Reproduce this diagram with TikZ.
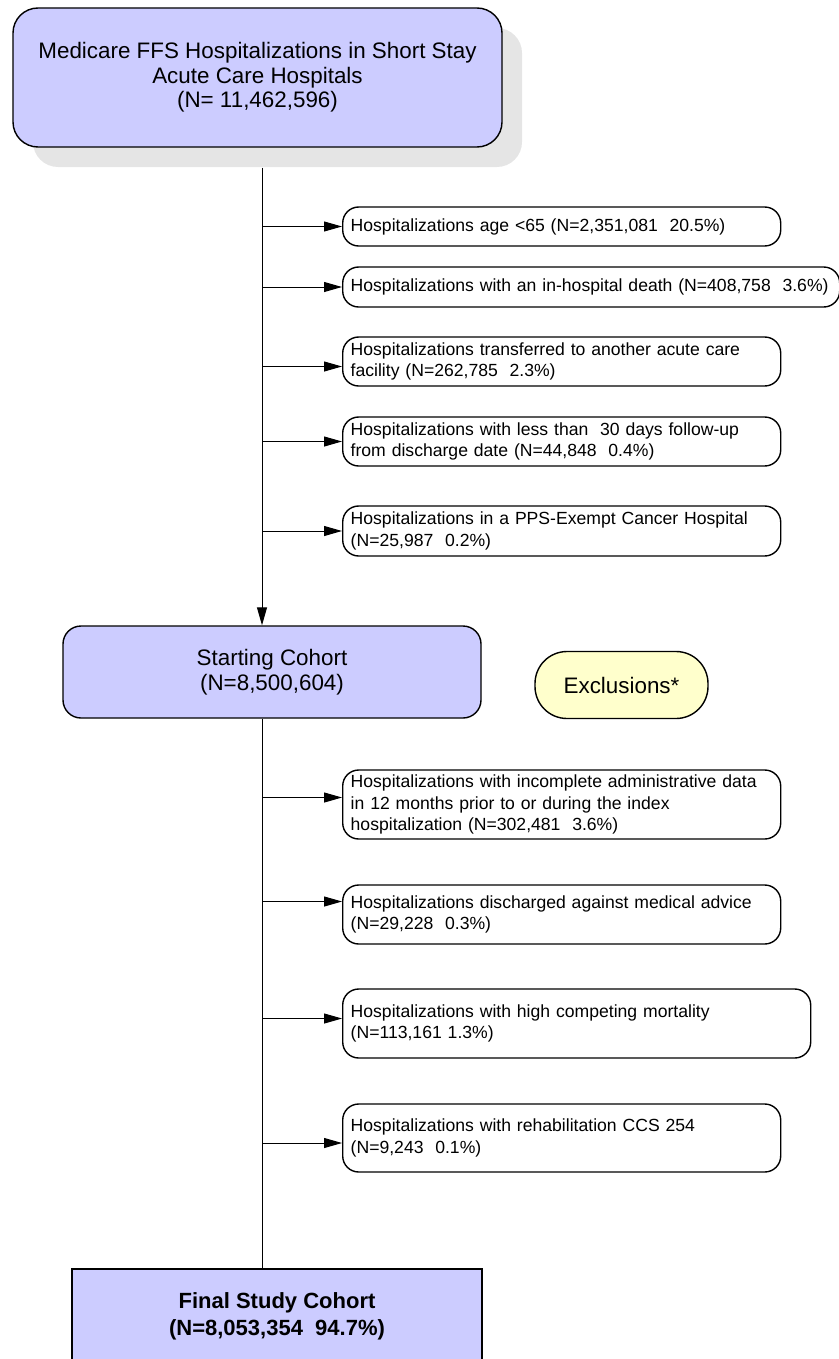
\documentclass[tikz,border=0pt]{standalone}
\usepackage{fontspec}
\setmainfont{Liberation Sans}
\usepackage{tikz}
\usetikzlibrary{arrows.meta}
\usetikzlibrary{shadows}
\tikzset{>={Triangle[length=9pt,width=5pt]}}
\definecolor{cohort}{RGB}{204,204,255}
\definecolor{exclfill}{RGB}{255,255,204}
\tikzset{
	cohortbox/.style={draw, line width=0.7pt, fill=cohort, align=center, inner sep=0pt,
		font=\fontsize{11.2}{12.3}\selectfont},
	exclbox/.style={draw, line width=0.7pt, rounded corners=8pt, align=left, anchor=west,
		inner xsep=4pt, inner ysep=0pt, font=\fontsize{8.8}{10.8}\selectfont},
}

\begin{document}
\begin{tikzpicture}[x=0.5pt,y=-0.5pt]
				\clip (0,0) rectangle (839,1359);
				% cohort boxes
				\node[cohortbox, rounded corners=12.5pt, minimum width=244.5pt, minimum height=69.5pt,
					drop shadow={shadow xshift=10pt, shadow yshift=-10pt, fill=black!10, opacity=1}]
					(src) at (257.5,77.5) {Medicare FFS Hospitalizations in Short Stay\\Acute Care Hospitals\\(N= 11,462,596)};
				\node[cohortbox, rounded corners=9pt, minimum width=209pt, minimum height=46pt]
					(start) at (272,672) {Starting Cohort\\(N=8,500,604)};
				\node[cohortbox, line width=1.4pt, minimum width=205pt, minimum height=47.5pt,
					font=\fontsize{11}{13.5}\selectfont\bfseries]
					(final) at (277,1316.5) {Final Study Cohort\\(N=8,053,354~ 94.7\%)};
				\node[draw, line width=0.7pt, fill=exclfill, rounded corners=16pt, minimum width=86.5pt,
					minimum height=33.5pt, font=\fontsize{11.2}{12.3}\selectfont]
					(excl) at (621.5,685) {Exclusions*};
	
				% exclusion boxes
				\node[exclbox, text width=211pt, minimum height=19.5pt] (ex1) at (342,226.5)
					{Hospitalizations age <65 (N=2,351,081~ 20.5\%)};
				\node[exclbox, text width=240.5pt, minimum height=20pt] (ex2) at (342,287)
					{\mbox{Hospitalizations with an in-hospital death (N=408,758~ 3.6\%)}};
				\node[exclbox, text width=211pt, minimum height=24.5pt] (ex3) at (342,361.5)
					{Hospitalizations transferred to another acute care\\facility (N=262,785~ 2.3\%)};
				\node[exclbox, text width=211pt, minimum height=24.5pt] (ex4) at (342,441.5)
					{Hospitalizations with less than~ 30 days follow-up\\from discharge date (N=44,848~ 0.4\%)};
				\node[exclbox, text width=211pt, minimum height=25pt] (ex5) at (342,531)
					{Hospitalizations in a PPS-Exempt Cancer Hospital\\(N=25,987~ 0.2\%)};
				\node[exclbox, text width=211pt, minimum height=34.5pt] (ex6) at (342,804.5)
					{Hospitalizations with incomplete administrative data\\in 12 months prior to or during the index\\hospitalization (N=302,481~ 3.6\%)};
				\node[exclbox, text width=211pt, minimum height=29.5pt] (ex7) at (342,914.5)
					{Hospitalizations discharged against medical advice\\(N=29,228~ 0.3\%)};
				\node[exclbox, text width=226pt, minimum height=34.5pt] (ex8) at (342,1023.5)
					{Hospitalizations with high competing mortality\\(N=113,161 1.3\%)};
				\node[exclbox, text width=211pt, minimum height=34pt] (ex9) at (342,1138)
					{Hospitalizations with rehabilitation CCS 254\\(N=9,243~ 0.1\%)};
	
				% spine and branches
				\coordinate (ax) at (262,0);
				\draw[line width=0.5pt,->] ([yshift=-10pt]src.south -| ax) -- (start.north -| ax);
				\draw[line width=0.5pt] (start.south -| ax) -- (final.north -| ax);
				\foreach \b/\s in {ex1/0, ex2/0, ex3/-2.5, ex4/0, ex5/0, ex6/3.5, ex7/6.5, ex8/2.5, ex9/-2.5}
					\draw[line width=0.5pt,->] ([yshift=\s pt]\b.west -| ax) -- ([yshift=\s pt]\b.west);
\end{tikzpicture}
\end{document}
